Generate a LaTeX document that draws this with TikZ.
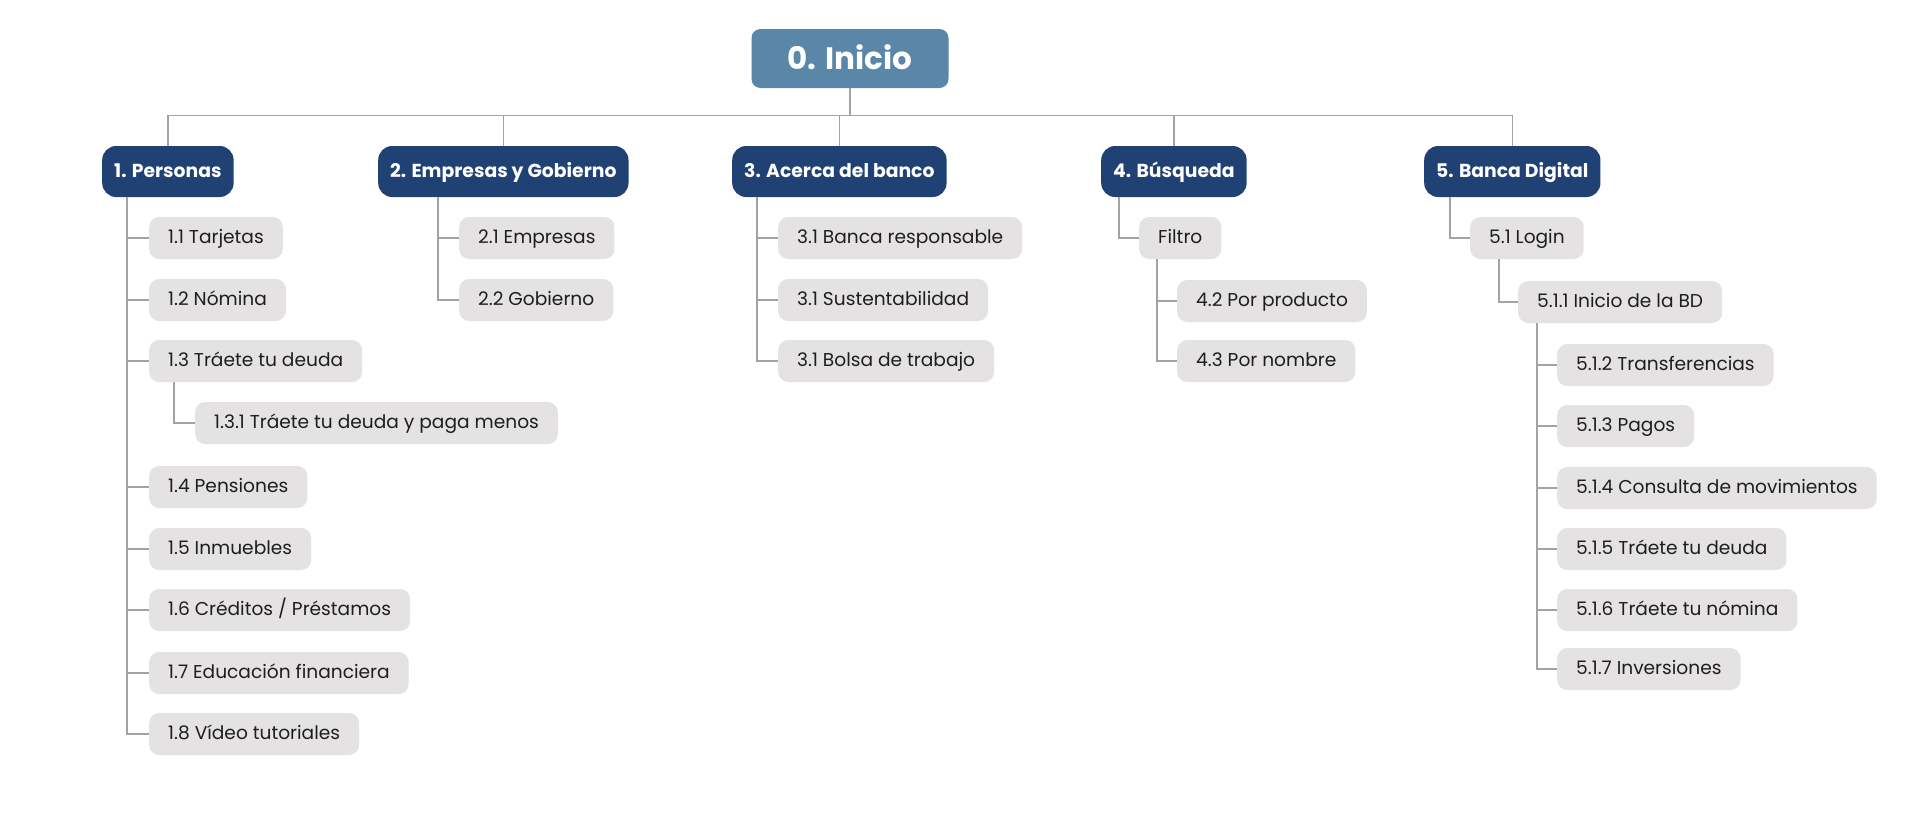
\documentclass[tikz,border=0pt]{standalone}
\usepackage{fontspec}
\setmainfont{Poppins}

\definecolor{inicioazul}{HTML}{5A87A8}
\definecolor{marino}{HTML}{1F4174}
\definecolor{grisclaro}{HTML}{E4E2E3}
\definecolor{gristraza}{HTML}{A3A3A3}
\definecolor{textogris}{HTML}{1E1E1E}

\tikzset{
  inicio/.style={fill=inicioazul, text=white, rounded corners=9pt,
    minimum width=197pt, minimum height=59pt,
    text height=22pt, text depth=1pt,
    font=\fontsize{31}{37}\selectfont\bfseries},
  seccion/.style={fill=marino, text=white, rounded corners=14pt,
    minimum height=51pt, inner xsep=12pt, anchor=west,
    text height=12.5pt, text depth=1pt,
    font=\fontsize{18.8}{22}\selectfont\bfseries},
  pagina/.style={fill=grisclaro, text=textogris, rounded corners=10pt,
    minimum height=42pt, inner xsep=19pt, anchor=west,
    text height=12.5pt, text depth=1pt,
    font=\fontsize{18.6}{22}\selectfont},
  enlace/.style={draw=gristraza, line width=1.3pt},
}

\begin{document}
\begin{tikzpicture}[x=1pt,y=-1pt]
  \useasboundingbox (0,0) rectangle (1920,830);

  \node[inicio] (inicio) at (850,58.5) {0. Inicio};

  \node[seccion] (personas) at (102,171.5) {1. Personas};
  \node[seccion] (empresas) at (378,171.5) {2. Empresas y Gobierno};
  \node[seccion] (acerca) at (732,171.5) {3. Acerca del banco};
  \node[seccion] (busqueda) at (1101,171.5) {4. Búsqueda};
  \node[seccion] (digital) at (1424,171.5) {5. Banca Digital};

  \foreach \s in {personas,empresas,acerca,busqueda,digital}
    \draw[enlace] (inicio.south) -- ++(0,27) -| (\s.north);

  % 1. Personas
  \node[pagina] (t11) at (149,238) {1.1 Tarjetas};
  \node[pagina] (t12) at (149,300) {1.2 Nómina};
  \node[pagina] (t13) at (149,361) {1.3 Tráete tu deuda};
  \node[pagina] (t131) at (195,423) {1.3.1 Tráete tu deuda y paga menos};
  \node[pagina] (t14) at (149,487) {1.4 Pensiones};
  \node[pagina] (t15) at (149,549) {1.5 Inmuebles};
  \node[pagina] (t16) at (149,610) {1.6 Créditos / Préstamos};
  \node[pagina] (t17) at (149,673) {1.7 Educación financiera};
  \node[pagina] (t18) at (149,734) {1.8 Vídeo tutoriales};

  \foreach \h in {t11,t12,t13,t14,t15,t16,t17,t18}
    \draw[enlace] ([xshift=25pt]personas.south west) |- (\h.west);
  \draw[enlace] ([xshift=25pt]t13.south west) |- (t131.west);

  % 2. Empresas y Gobierno
  \node[pagina] (e21) at (459,238) {2.1 Empresas};
  \node[pagina] (e22) at (459,300) {2.2 Gobierno};

  \foreach \h in {e21,e22}
    \draw[enlace] ([xshift=60pt]empresas.south west) |- (\h.west);

  % 3. Acerca del banco
  \node[pagina] (a31) at (778,238) {3.1 Banca responsable};
  \node[pagina] (a32) at (778,300) {3.1 Sustentabilidad};
  \node[pagina] (a33) at (778,361) {3.1 Bolsa de trabajo};

  \foreach \h in {a31,a32,a33}
    \draw[enlace] ([xshift=25pt]acerca.south west) |- (\h.west);

  % 4. Búsqueda
  \node[pagina] (filtro) at (1139,238) {Filtro};
  \node[pagina] (b42) at (1177,301) {4.2 Por producto};
  \node[pagina] (b43) at (1177,361) {4.3 Por nombre};

  \draw[enlace] ([xshift=18pt]busqueda.south west) |- (filtro.west);
  \foreach \h in {b42,b43}
    \draw[enlace] ([xshift=18pt]filtro.south west) |- (\h.west);

  % 5. Banca Digital
  \node[pagina] (login) at (1470,238) {5.1 Login};
  \node[pagina] (d511) at (1518,302) {5.1.1 Inicio de la BD};
  \node[pagina] (d512) at (1557,365) {5.1.2 Transferencias};
  \node[pagina] (d513) at (1557,426) {5.1.3 Pagos};
  \node[pagina] (d514) at (1557,488) {5.1.4 Consulta de movimientos};
  \node[pagina] (d515) at (1557,549) {5.1.5 Tráete tu deuda};
  \node[pagina] (d516) at (1557,610) {5.1.6 Tráete tu nómina};
  \node[pagina] (d517) at (1557,669) {5.1.7 Inversiones};

  \draw[enlace] ([xshift=26pt]digital.south west) |- (login.west);
  \draw[enlace] ([xshift=29pt]login.south west) |- (d511.west);
  \foreach \h in {d512,d513,d514,d515,d516,d517}
    \draw[enlace] ([xshift=19pt]d511.south west) |- (\h.west);
\end{tikzpicture}
\end{document}
